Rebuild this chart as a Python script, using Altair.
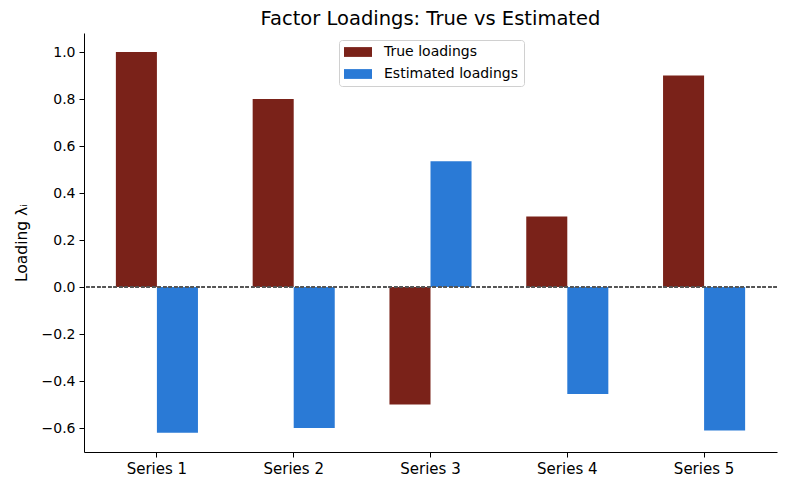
import altair as alt
import pandas as pd

series = ["Series 1", "Series 2", "Series 3", "Series 4", "Series 5"]
true_vals = [1.0, 0.8, -0.5, 0.3, 0.9]
est_vals = [-0.62, -0.60, 0.535, -0.455, -0.61]
kinds = ["True loadings", "Estimated loadings"]
colors = ["#7a2219", "#2a7ad6"]
y_ticks = [-0.6, -0.4, -0.2, 0.0, 0.2, 0.4, 0.6, 0.8, 1.0]

rows = []
for s, t, e in zip(series, true_vals, est_vals):
    rows.append({"series": s, "kind": kinds[0], "value": t})
    rows.append({"series": s, "kind": kinds[1], "value": e})
df = pd.DataFrame(rows)

FONT = "DejaVu Sans"

bars = alt.Chart(df).mark_bar().encode(
    x=alt.X("series:N", sort=series, title=None,
            scale=alt.Scale(paddingInner=0.4, paddingOuter=0.233),
            axis=alt.Axis(labelAngle=0, labelFontSize=15, labelPadding=4)),
    xOffset=alt.XOffset("kind:N", sort=kinds, scale=alt.Scale(paddingInner=0, paddingOuter=0)),
    y=alt.Y("value:Q", title="Loading λᵢ",
            scale=alt.Scale(domain=[-0.702, 1.081], nice=False, zero=False),
            axis=alt.Axis(values=y_ticks, format=".1f", labelFontSize=14,
                          titleFontSize=15.5, titlePadding=12, labelPadding=4)),
    color=alt.Color("kind:N", sort=kinds,
                    scale=alt.Scale(domain=kinds, range=colors),
                    legend=alt.Legend(title=None, orient="none", legendX=255, legendY=7,
                                      symbolType="M-1,-0.7L3,-0.7L3,0.7L-1,0.7Z",
                                      symbolSize=196, symbolStrokeWidth=0,
                                      labelFontSize=14, labelOffset=26, rowPadding=8,
                                      padding=5, strokeColor="#d0d0d0",
                                      fillColor="white", cornerRadius=3,
                                      symbolOpacity=1)),
)

zero = alt.Chart(df).mark_rule(strokeDash=[3.5, 2], color="#555555", strokeWidth=0.8).encode(
    y=alt.datum(0)
)

chart = alt.layer(bars, zero).properties(
    width=693, height=419,
    title=alt.TitleParams("Factor Loadings: True vs Estimated", fontSize=19.5,
                          fontWeight="normal", font=FONT, offset=4, color="black"),
    autosize=alt.AutoSizeParams(type="none"),
    padding={"left": 76, "top": 25, "right": 1, "bottom": 35},
).configure_view(stroke=None).configure_axis(
    grid=False, domainColor="black", tickColor="black", labelColor="black",
    titleColor="black", labelFont=FONT, titleFont=FONT, tickSize=5,
    titleFontWeight="normal", domainWidth=1, tickWidth=1,
).configure_legend(labelFont=FONT, labelColor="black")

chart.save("out.html", embed_options={"renderer": "svg", "actions": False})
